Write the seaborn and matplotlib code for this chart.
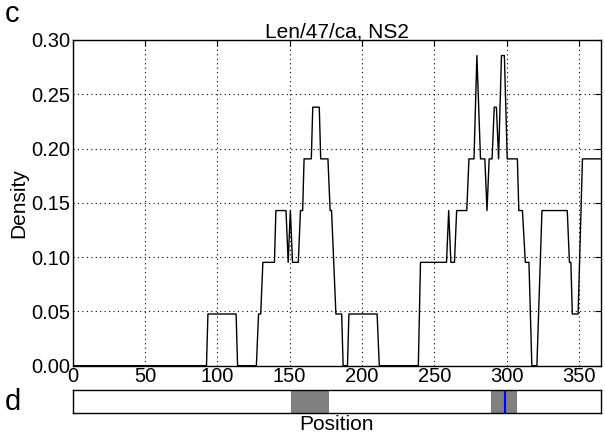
import matplotlib
matplotlib.use("Agg")
import matplotlib.pyplot as plt
import seaborn as sns
import pandas as pd

# Sliding-window density profile along NS2 (vertices of the trace)
position = [0, 92.5, 93.5, 113, 114, 127, 128.5, 130, 131.5, 139.5,
            140.5, 147.5, 149, 150.5, 152, 156, 157.5, 159, 160, 165,
            166, 170.5, 171.5, 176.5, 178, 179, 182, 186, 187, 190,
            191, 210.5, 212, 239, 240.5, 258.5, 260, 261.5, 264, 265.5,
            272.5, 274, 277.5, 279.5, 282, 285, 286.5, 288, 290, 291.5,
            293, 294.5, 296.5, 298.5, 300.5, 307.5, 308.5, 311, 313, 315.5,
            317.5, 321, 324.5, 342, 343.5, 344.5, 345.5, 349.5, 352.5, 365]
density = [0.0, 0.0, 0.0476, 0.0476, 0.0, 0.0, 0.0476, 0.0476, 0.0952, 0.0952,
           0.1429, 0.1429, 0.0952, 0.1429, 0.0952, 0.0952, 0.1429, 0.1429, 0.1905, 0.1905,
           0.2381, 0.2381, 0.1905, 0.1905, 0.1429, 0.1429, 0.0476, 0.0476, 0.0, 0.0,
           0.0476, 0.0476, 0.0, 0.0, 0.0952, 0.0952, 0.1429, 0.0952, 0.0952, 0.1429,
           0.1429, 0.1905, 0.1905, 0.2857, 0.1905, 0.1905, 0.1429, 0.1905, 0.1905, 0.2381,
           0.2381, 0.1905, 0.2857, 0.2857, 0.1905, 0.1905, 0.1429, 0.1429, 0.0952, 0.0952,
           0.0, 0.0, 0.1429, 0.1429, 0.0952, 0.0952, 0.0476, 0.0476, 0.1905, 0.1905]

# Highlighted regions and marked site on the protein bar
region_starts = [151, 289]
region_ends = [177, 307]
site_positions = [299]

x_ticks = [0, 50, 100, 150, 200, 250, 300, 350]
y_ticks = [0.00, 0.05, 0.10, 0.15, 0.20, 0.25, 0.30]
title = "Len/47/ca, NS2"

sns.set_style("white", {
    "axes.edgecolor": "black",
    "xtick.direction": "in",
    "ytick.direction": "in",
    "text.color": "black",
    "axes.labelcolor": "black",
    "xtick.color": "black",
    "ytick.color": "black",
})
plt.rcParams["font.family"] = ["Liberation Sans", "DejaVu Sans"]
plt.rcParams["axes.linewidth"] = 1.0

fig = plt.figure(figsize=(6.05, 4.38), dpi=100)
ax = fig.add_axes([0.1202, 0.1651, 0.8724, 0.7436])
ax_bar = fig.add_axes([0.1202, 0.0582, 0.8724, 0.0525])

df = pd.DataFrame({"Position": position, "Density": density})
sns.lineplot(data=df, x="Position", y="Density", ax=ax, color="black",
             linewidth=1.0, sort=False, estimator=None)

ax.set_xlim(0, 365)
ax.set_ylim(0, 0.30)
ax.set_xticks(x_ticks)
ax.set_xticklabels([str(t) for t in x_ticks])
ax.set_yticks(y_ticks)
ax.set_yticklabels([f"{t:.2f}" for t in y_ticks])
ax.grid(True, color="black", linestyle=(0, (1, 3)), linewidth=0.8)
ax.tick_params(axis="both", labelsize=14.5, length=4, width=0.8,
               top=True, right=True, pad=2, colors="black")
ax.tick_params(axis="x", pad=1)
ax.set_xlabel("")
ax.set_ylabel("Density", fontsize=15, labelpad=2)
ax.set_title(title, fontsize=15, pad=2)
for s in ax.spines.values():
    s.set_visible(True)
    s.set_color("black")

# Protein bar with shaded regions
for a, b in zip(region_starts, region_ends):
    ax_bar.axvspan(a, b, color="#808080", lw=0)
for p in site_positions:
    ax_bar.axvline(p, color="blue", lw=1.5)
ax_bar.set_xlim(0, 365)
ax_bar.set_ylim(0, 1)
ax_bar.set_xticks([])
ax_bar.set_yticks([])
ax_bar.set_xlabel("Position", fontsize=15, labelpad=2)
for s in ax_bar.spines.values():
    s.set_visible(True)
    s.set_color("black")

fig.text(0.008, 0.968, "c", fontsize=21, va="center", ha="left")
fig.text(0.008, 0.083, "d", fontsize=21, va="center", ha="left")

fig.savefig("out.png", dpi=100)
